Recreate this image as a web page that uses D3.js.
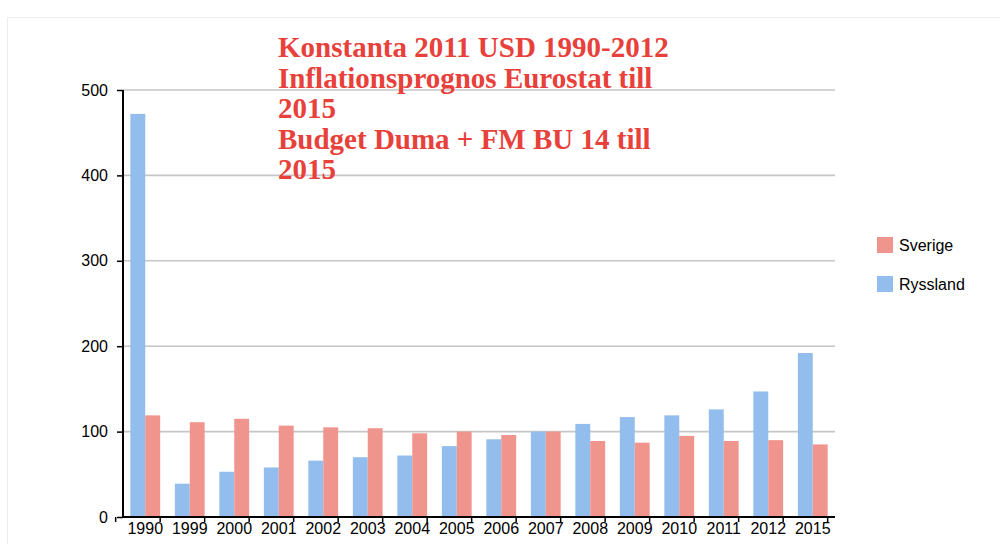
<!DOCTYPE html>
<html>
<head>
<meta charset="utf-8">
<script src="https://cdn.jsdelivr.net/npm/d3@7"></script>
<style>
  body { margin: 0; background: #fff; }
  svg { display: block; }
  .tick text { font-family: "Liberation Sans", Arial, sans-serif; fill: #000; }
</style>
</head>
<body>
<svg id="chart" width="1000" height="544"></svg>
<script>
// data
const years = ["1990", "1999", "2000", "2001", "2002", "2003", "2004", "2005",
  "2006", "2007", "2008", "2009", "2010", "2011", "2012", "2015"];
const ryssland = [472, 39, 53, 58, 66, 70, 72, 83, 91, 100, 109, 117, 119, 126, 147, 192];
const sverige = [119, 111, 115, 107, 105, 104, 98, 100, 96, 100, 89, 87, 95, 89, 90, 85];
const seriesNames = ["Ryssland", "Sverige"];
const legendOrder = ["Sverige", "Ryssland"];
const yTicks = [0, 100, 200, 300, 400, 500];
const titleLines = ["Konstanta 2011 USD 1990-2012", "Inflationsprognos Eurostat till", "2015",
  "Budget Duma + FM BU 14 till", "2015"];

const colors = { Ryssland: "#92bdec", Sverige: "#f0948e" };

const svg = d3.select("#chart");

// faint frame round the chart
svg.append("rect")
  .attr("x", 7.5).attr("y", 17.5)
  .attr("width", 1100).attr("height", 700)
  .attr("fill", "none")
  .attr("stroke", "#ececec");

const margin = { left: 123, right: 165, top: 90, bottom: 27 };
const width = 1000 - margin.left - margin.right;   // 712
const height = 544 - margin.top - margin.bottom;   // 427

const g = svg.append("g").attr("transform", `translate(${margin.left},${margin.top})`);

const x = d3.scaleBand().domain(years).range([0, width]).paddingInner(0.33).paddingOuter(0.165);
const xSub = d3.scaleBand().domain(seriesNames).range([0, x.bandwidth()]);
const y = d3.scaleLinear().domain([0, 500]).range([height, 0]);

// gridlines
g.append("g")
  .selectAll("line")
  .data(yTicks.filter(d => d > 0))
  .enter().append("line")
  .attr("x1", 0).attr("x2", width)
  .attr("y1", d => y(d)).attr("y2", d => y(d))
  .attr("stroke", "#c6c6c6")
  .attr("stroke-width", 1.6);

// bars
const rows = years.map((yr, i) => ({ year: yr, Ryssland: ryssland[i], Sverige: sverige[i] }));
const groups = g.append("g").selectAll("g")
  .data(rows)
  .enter().append("g")
  .attr("transform", d => `translate(${x(d.year)},0)`);

groups.selectAll("rect")
  .data(d => seriesNames.map(s => ({ key: s, value: d[s] })))
  .enter().append("rect")
  .attr("x", d => xSub(d.key))
  .attr("y", d => y(d.value))
  .attr("width", xSub.bandwidth())
  .attr("height", d => height - y(d.value))
  .attr("fill", d => colors[d.key]);

// y axis
const yAxis = g.append("g")
  .call(d3.axisLeft(y).tickValues(yTicks).tickSize(6).tickPadding(9));
yAxis.select(".domain").attr("stroke", "#000").attr("stroke-width", 2).attr("d", `M0,${height + 1}V0`);
yAxis.selectAll(".tick line").attr("stroke", "#000").attr("stroke-width", 1.5);
yAxis.selectAll(".tick text").style("font-size", "16px");

// x axis, ticks between the categories
const xAxis = g.append("g")
  .attr("transform", `translate(0,${height})`)
  .call(d3.axisBottom(x).tickSize(0).tickPadding(6));
xAxis.select(".domain").attr("stroke", "#000").attr("stroke-width", 2).attr("d", `M-1,0H${width}`);
xAxis.selectAll(".tick text").style("font-size", "16px");

const step = x.step();
const outer = x.paddingOuter() * step;
g.append("g")
  .selectAll("line")
  .data(d3.range(years.length + 1))
  .enter().append("line")
  .attr("x1", i => x(years[0]) - outer - x.paddingInner() * step / 2 + i * step)
  .attr("x2", i => x(years[0]) - outer - x.paddingInner() * step / 2 + i * step)
  .attr("y1", height).attr("y2", height + 5)
  .attr("stroke", "#000")
  .attr("stroke-width", 1.5);

// legend
const legend = svg.append("g").attr("transform", "translate(877,237)");
const items = legend.selectAll("g")
  .data(legendOrder)
  .enter().append("g")
  .attr("transform", (d, i) => `translate(0,${i * 39})`);
items.append("rect")
  .attr("width", 16).attr("height", 16)
  .attr("fill", d => colors[d]);
items.append("text")
  .attr("x", 22).attr("y", 13.5)
  .style("font-family", "'Liberation Sans', Arial, sans-serif")
  .style("font-size", "16px")
  .attr("fill", "#000")
  .text(d => d);

// title
svg.append("text")
  .attr("x", 278).attr("y", 57)
  .style("font-family", "'Liberation Serif', 'Times New Roman', serif")
  .style("font-weight", "bold")
  .style("font-size", "29px")
  .attr("fill", "#e8403a")
  .selectAll("tspan")
  .data(titleLines)
  .enter().append("tspan")
  .attr("x", 278)
  .attr("dy", (d, i) => i === 0 ? 0 : 30.5)
  .text(d => d);
</script>
</body>
</html>
